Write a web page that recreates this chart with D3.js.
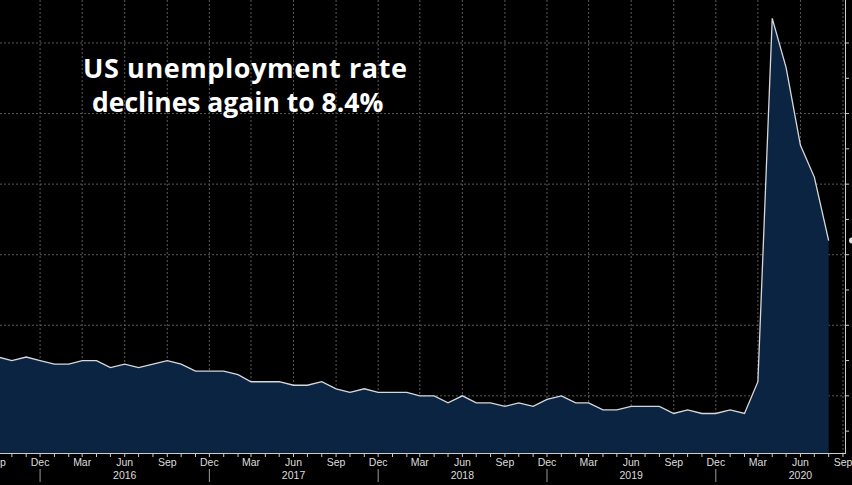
<!DOCTYPE html><html><head><meta charset="utf-8">
<script src="https://cdn.jsdelivr.net/npm/d3@7"></script>
<style>body{margin:0;background:#000}svg{display:block}</style></head><body>
<svg id="c" width="852" height="485"></svg>
<script>
const startMonth = "2015-09";
const rates = [5.1,5.0,5.1,5.0,
 4.9,4.9,5.0,5.0,4.8,4.9,4.8,4.9,5.0,4.9,4.7,4.7,
 4.7,4.6,4.4,4.4,4.4,4.3,4.3,4.4,4.2,4.1,4.2,4.1,
 4.1,4.1,4.0,4.0,3.8,4.0,3.8,3.8,3.7,3.8,3.7,3.9,
 4.0,3.8,3.8,3.6,3.6,3.7,3.7,3.7,3.5,3.6,3.5,3.5,
 3.6,3.5,4.4,14.7,13.3,11.1,10.2,8.4];
const yGrid = [4,6,8,10,12,14];
const yTicks = [3,4,5,6,7,8,9,10,11,12,13,14];
const years = ["2016","2017","2018","2019","2020"];
const monthNames = ["Jan","Feb","Mar","Apr","May","Jun","Jul","Aug","Sep","Oct","Nov","Dec"];

const svg = d3.select("#c");
const t0 = d3.timeParse("%Y-%m")(startMonth);
const data = rates.map((v,i)=>({d:d3.timeMonth.offset(t0,i), v}));
const x = d3.scaleTime().domain([t0, d3.timeMonth.offset(t0,60)]).range([-2,843]);
const y = d3.scaleLinear().domain([2.38,14]).range([453,43]);

const quarters = d3.range(0,61,3).map(i=>d3.timeMonth.offset(t0,i));
svg.append("g").selectAll("line").data(quarters).join("line")
 .attr("x1",d=>x(d)).attr("x2",d=>x(d)).attr("y1",0).attr("y2",453)
 .attr("stroke","#5a5a5a").attr("stroke-dasharray","2,2");
svg.append("g").selectAll("line").data(yGrid).join("line")
 .attr("x1",0).attr("x2",845).attr("y1",d=>y(d)).attr("y2",d=>y(d))
 .attr("stroke","#5a5a5a").attr("stroke-dasharray","2,2");

svg.append("path").datum(data).attr("fill","#0b2442")
 .attr("d",d3.area().x(d=>x(d.d)).y0(453).y1(d=>y(d.v)));
svg.append("path").datum(data).attr("fill","none").attr("stroke","#d8d8d8").attr("stroke-width",1.3)
 .attr("d",d3.line().x(d=>x(d.d)).y(d=>y(d.v)));

svg.append("line").attr("x1",0).attr("x2",846).attr("y1",453.5).attr("y2",453.5).attr("stroke","#ccc");
svg.append("line").attr("x1",845.5).attr("x2",845.5).attr("y1",0).attr("y2",454).attr("stroke","#ccc");
const months = d3.range(0,61).map(i=>d3.timeMonth.offset(t0,i));
svg.append("g").selectAll("line").data(months).join("line")
 .attr("x1",d=>x(d)).attr("x2",d=>x(d)).attr("y1",453).attr("y2",457).attr("stroke","#ccc");
svg.append("g").selectAll("text").data(quarters.slice(1)).join("text")
 .attr("x",d=>x(d)).attr("y",466).attr("text-anchor","middle").attr("fill","#ddd")
 .attr("font-family","Liberation Sans,Arial").attr("font-size",10.5)
 .text(d=>monthNames[d.getMonth()]);
svg.append("text").attr("x",0).attr("y",466).attr("fill","#ddd")
 .attr("font-family","Liberation Sans,Arial").attr("font-size",10.5).text("p");
const decs = quarters.filter(d=>d.getMonth()===11);
svg.append("g").selectAll("line").data(decs).join("line")
 .attr("x1",d=>x(d)).attr("x2",d=>x(d)).attr("y1",469).attr("y2",482).attr("stroke","#999");
svg.append("g").selectAll("text").data(years).join("text")
 .attr("x",d=>x(new Date(+d,5,1))).attr("y",479).attr("text-anchor","middle").attr("fill","#ddd")
 .attr("font-family","Liberation Sans,Arial").attr("font-size",10.5).text(d=>d);
svg.append("g").selectAll("line").data(yTicks).join("line")
 .attr("x1",845).attr("x2",849).attr("y1",d=>y(d)).attr("y2",d=>y(d)).attr("stroke","#ccc");
svg.append("circle").attr("cx",852).attr("cy",y(8.4)).attr("r",3).attr("fill","#ddd");

svg.append("text").attr("x",83).attr("y",78).attr("fill","#fff").attr("font-family","Open Sans")
 .attr("font-weight","bold").attr("font-size",27).attr("textLength",324).text("US unemployment rate");
svg.append("text").attr("x",92).attr("y",112).attr("fill","#fff").attr("font-family","Open Sans")
 .attr("font-weight","bold").attr("font-size",26.5).text("declines again to 8.4%");
</script></body></html>
